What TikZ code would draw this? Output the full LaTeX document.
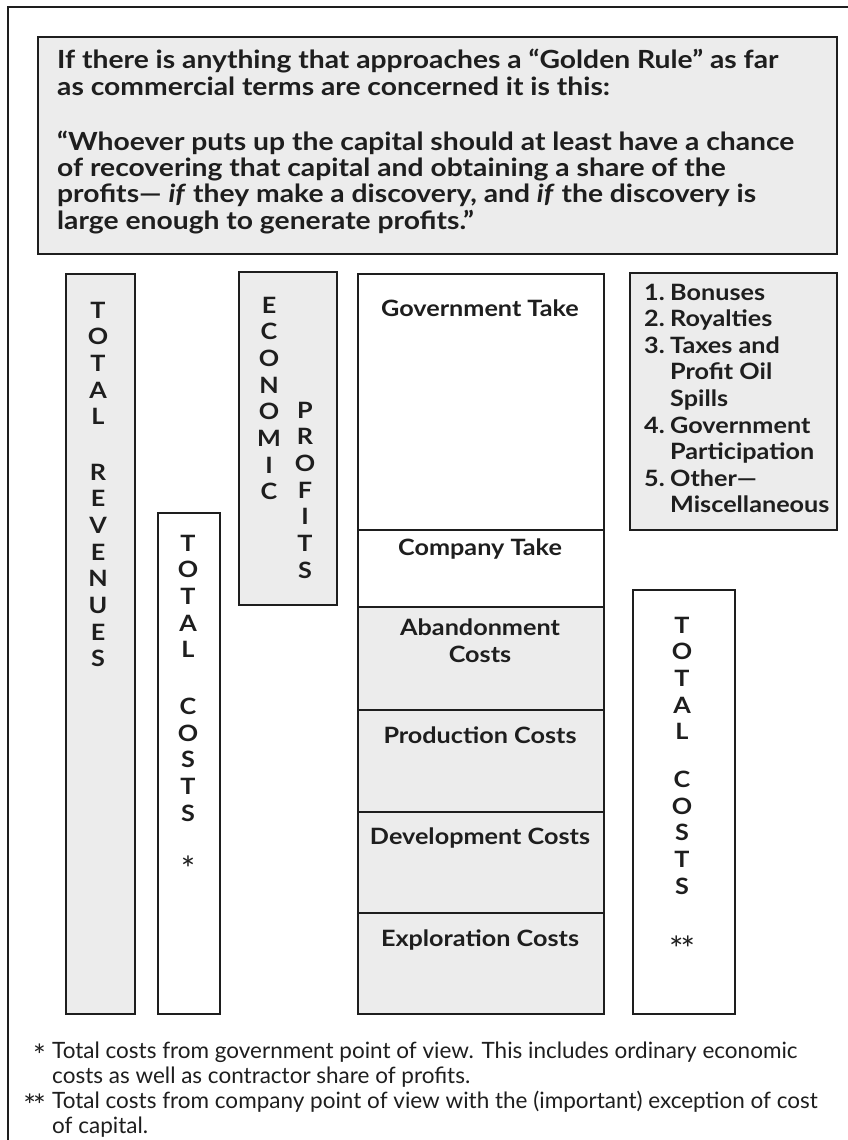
\documentclass[tikz,border=0pt]{standalone}
\usepackage{fontspec}
\setmainfont{Lato}
\newfontfamily\gb[FakeStretch=1.12]{Lato}
\newfontfamily\qf[FakeStretch=1.13]{Lato}
\newfontfamily\ff{Lato}
\definecolor{boxgray}{RGB}{236,236,236}
\definecolor{ink}{RGB}{30,30,30}
\begin{document}
\begin{tikzpicture}[x=1pt,y=-1pt,
  every node/.style={text=ink},
  gbox/.style={draw=ink, line width=1.8pt, fill=boxgray, inner sep=0pt, anchor=north west},
  wbox/.style={gbox, fill=white},
  vlab/.style={font=\gb\bfseries\fontsize{22.5}{26.7}\selectfont, inner sep=0pt, anchor=base},
  lab/.style={font=\gb\bfseries\fontsize{22.5}{27}\selectfont, inner sep=0pt, anchor=base},
  star/.style={font=\ff\fontsize{34}{34}\selectfont, inner sep=0pt, anchor=base},
  fstar/.style={font=\ff\fontsize{30}{30}\selectfont, inner sep=0pt, anchor=base east},
]
\useasboundingbox (0,0) rectangle (848,1140);
\clip (0,0) rectangle (848,1140);
% outer frame
\draw[draw=ink, line width=2pt] (8,1150) -- (8,7) -- (860,7);
% quote box
\node[gbox, minimum width=799pt, minimum height=217pt] (quote) at (37,36) {};
\node[font=\qf\bfseries\fontsize{25}{25}\selectfont, inner sep=0pt, anchor=base west] (qtext) at (57,69)
 {\begin{tabular}[t]{@{}l@{}}
  If there is anything that approaches a “Golden Rule” as far\\
  as commercial terms are concerned it is this:\\[28pt]
  “Whoever puts up the capital should at least have a chance\\
  of recovering that capital and obtaining a share of the\\
  profits— \textit{if} they make a discovery, and \textit{if} the discovery is\\
  large enough to generate profits.”
  \end{tabular}};
% vertical bars
\node[gbox, minimum width=69pt, minimum height=740pt] (rev) at (65,273) {};
\node[wbox, minimum width=62pt, minimum height=501pt] (tcl) at (157,512) {};
\node[gbox, minimum width=98pt, minimum height=333pt] (eco) at (238,271) {};
\node[vlab] (revl) at (98,318) {\begin{tabular}[t]{@{}c@{}}T\\O\\T\\A\\L\\[28.5pt]R\\E\\V\\E\\N\\U\\E\\S\end{tabular}};
\node[vlab] (tcll) at (188,551) {\begin{tabular}[t]{@{}c@{}}T\\O\\T\\A\\L\\[30pt]C\\O\\S\\T\\S\end{tabular}};
\node[star] (tcls) at (188,881) {*};
\node[vlab] (ecol) at (269,313) {\begin{tabular}[t]{@{}c@{}}E\\C\\O\\N\\O\\M\\I\\C\end{tabular}};
\node[vlab] (prol) at (305,418) {\begin{tabular}[t]{@{}c@{}}P\\R\\O\\F\\I\\T\\S\end{tabular}};
% main column
\node[wbox, minimum width=246pt, minimum height=256pt] (gov) at (357,273) {};
\node[wbox, minimum width=246pt, minimum height=77pt] (comp) at (357,529) {};
\node[gbox, minimum width=246pt, minimum height=103pt] (aban) at (357,606) {};
\node[gbox, minimum width=246pt, minimum height=102pt] (prod) at (357,709) {};
\node[gbox, minimum width=246pt, minimum height=101pt] (dev) at (357,811) {};
\node[gbox, minimum width=246pt, minimum height=101pt] (expl) at (357,912) {};
\node[lab] (govl) at (480,316) {Government Take};
\node[lab] (compl) at (480,555) {Company Take};
\node[lab] (abanl) at (480,635) {\begin{tabular}[t]{@{}c@{}}Abandonment\\Costs\end{tabular}};
\node[lab] (prodl) at (480,743) {Production Costs};
\node[lab] (devl) at (480,844) {Development Costs};
\node[lab] (expll) at (480,946) {Exploration Costs};
% list box
\node[gbox, minimum width=207pt, minimum height=257pt] (list) at (629,272) {};
\node[font=\gb\bfseries\fontsize{22.5}{26.6}\selectfont, inner sep=0pt, anchor=base west] (listl) at (644,300)
 {\begin{tabular}[t]{@{}p{26pt}@{}l@{}}
  1. & Bonuses\\
  2. & Royalties\\
  3. & Taxes and\\
     & Profit Oil\\
     & Spills\\
  4. & Government\\
     & Participation\\
  5. & Other—\\
     & Miscellaneous
  \end{tabular}};
% right total costs
\node[wbox, minimum width=102pt, minimum height=424pt] (tcr) at (632,589) {};
\node[vlab] (tcrl) at (682,633) {\begin{tabular}[t]{@{}c@{}}T\\O\\T\\A\\L\\[21pt]C\\O\\S\\T\\S\end{tabular}};
\node[star] (tcrs) at (682,961) {*\kern-3pt*};
% footnotes
\node[fstar] (fs1) at (46,1066) {*};
\node[fstar] (fs2) at (46,1116) {*\kern-3pt*};
\node[font=\ff\fontsize{22.5}{25}\selectfont, inner sep=0pt, anchor=base west] (notes) at (52,1058)
 {\begin{tabular}[t]{@{}l@{}}
  Total costs from government point of view. This includes ordinary economic\\
  costs as well as contractor share of profits.\\
  Total costs from company point of view with the (important) exception of cost\\
  of capital.
  \end{tabular}};
\end{tikzpicture}
\end{document}
